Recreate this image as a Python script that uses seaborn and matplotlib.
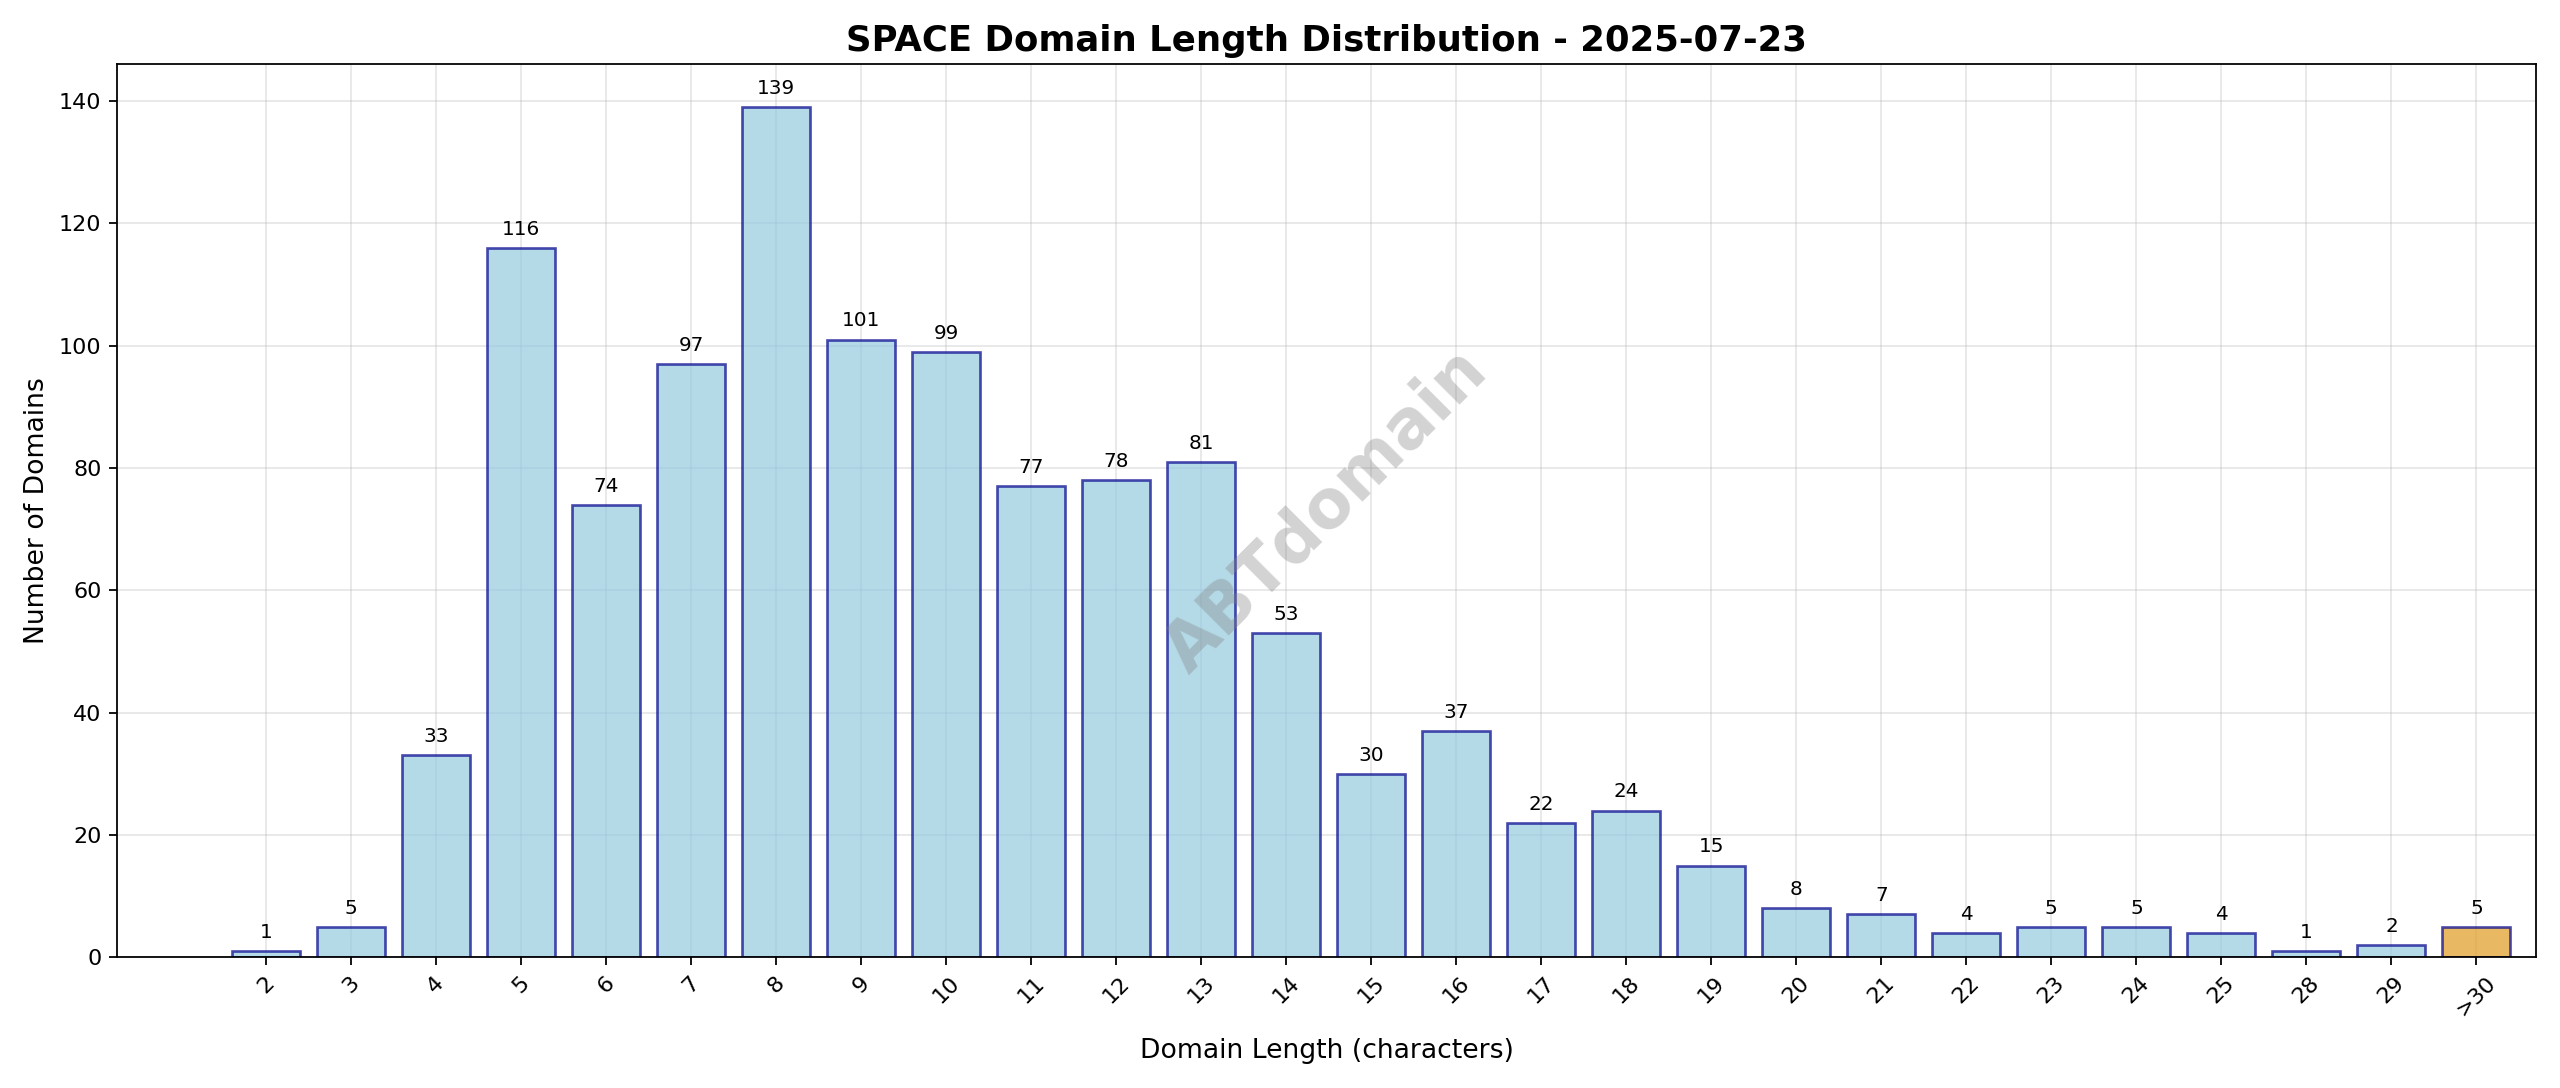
import matplotlib
matplotlib.use("Agg")
import matplotlib.pyplot as plt
import seaborn as sns
import pandas as pd

lengths = ['2', '3', '4', '5', '6', '7', '8', '9', '10', '11', '12', '13', '14', '15',
           '16', '17', '18', '19', '20', '21', '22', '23', '24', '25', '28', '29', '>30']
counts = [1, 5, 33, 116, 74, 97, 139, 101, 99, 77, 78, 81, 53, 30,
          37, 22, 24, 15, 8, 7, 4, 5, 5, 4, 1, 2, 5]

df = pd.DataFrame({'length': lengths, 'count': counts})
colors = ['skyblue'] * (len(lengths) - 1) + ['orange']

fig, ax = plt.subplots(figsize=(16, 6.8), dpi=160)
sns.barplot(data=df, x='length', y='count', order=lengths, hue='length',
            palette=colors, legend=False, width=0.8, alpha=0.7,
            edgecolor='darkblue', linewidth=1.2, ax=ax)
for p in ax.patches:
    p.set_edgecolor((0.0, 0.0, 0.55, 0.7))

for i, c in enumerate(counts):
    ax.text(i, c + 1.5, str(c), ha='center', va='bottom', fontsize=9)

ax.set_xlim(-1.75, len(lengths) - 0.3)
ax.set_ylim(0, 146)
ax.grid(True, alpha=0.3)
ax.set_axisbelow(True)
plt.xticks(rotation=45)
ax.set_xlabel('Domain Length (characters)', fontsize=12, labelpad=8)
ax.set_ylabel('Number of Domains', fontsize=12)
ax.set_title('SPACE Domain Length Distribution - 2025-07-23', fontsize=16, fontweight='bold')
ax.text(0.5, 0.5, 'ABTdomain', transform=ax.transAxes, fontsize=30, color='gray',
        alpha=0.35, rotation=45, ha='center', va='center', fontweight='bold')

plt.tight_layout()
plt.savefig('out.png', dpi=160)
